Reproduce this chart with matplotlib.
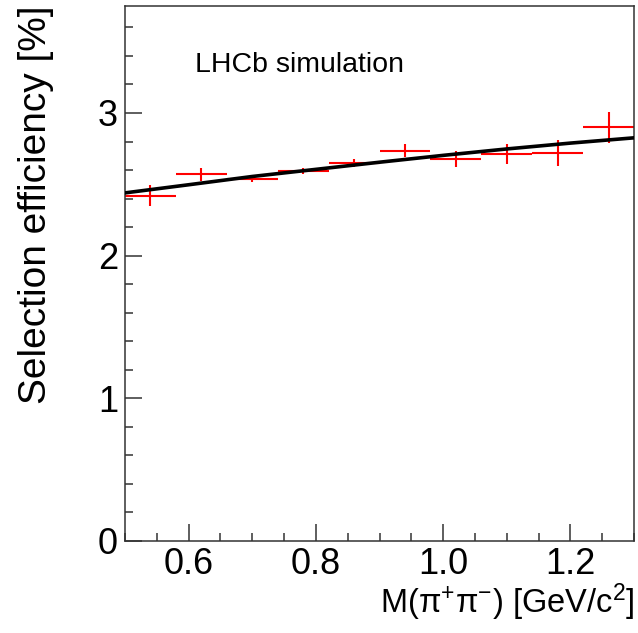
import numpy as np
import matplotlib
matplotlib.use('Agg')
import matplotlib.pyplot as plt
from matplotlib.ticker import MultipleLocator, FormatStrFormatter

plt.rcParams['font.family'] = ['Liberation Sans', 'DejaVu Sans']
plt.rcParams['mathtext.fontset'] = 'custom'
plt.rcParams['mathtext.rm'] = 'Liberation Sans'
plt.rcParams['mathtext.it'] = 'Liberation Sans:italic'

# binned efficiency
bin_edges = [0.50, 0.58, 0.66, 0.74, 0.82, 0.90, 0.98, 1.06, 1.14, 1.22, 1.30]
efficiency = [2.42, 2.57, 2.54, 2.595, 2.65, 2.735, 2.678, 2.716, 2.72, 2.90]
eff_error = [0.073, 0.047, 0.025, 0.021, 0.026, 0.046, 0.059, 0.070, 0.088, 0.109]

# fitted curve
fit_mass = [0.50, 0.60, 0.70, 0.80, 0.90, 1.00, 1.10, 1.20, 1.30]
fit_eff = [2.44, 2.497, 2.555, 2.605, 2.655, 2.703, 2.748, 2.789, 2.826]

edges = np.array(bin_edges)
centers = 0.5 * (edges[1:] + edges[:-1])
half_width = 0.5 * (edges[1:] - edges[:-1])

fig = plt.figure(figsize=(6.38, 6.33), dpi=100)
ax = fig.add_axes([125 / 638, 92 / 633, 509 / 638, 535 / 633])

ax.errorbar(centers, efficiency, xerr=half_width, yerr=eff_error,
            fmt='none', ecolor='#ff0000', elinewidth=1.5, capsize=0, zorder=2)
ax.plot(fit_mass, fit_eff, color='black', linewidth=2.6, zorder=3)

ax.set_xlim(0.5, 1.3)
ax.set_ylim(0, 3.75)

ax.xaxis.set_major_locator(MultipleLocator(0.2))
ax.xaxis.set_minor_locator(MultipleLocator(0.05))
ax.xaxis.set_major_formatter(FormatStrFormatter('%.1f'))
ax.yaxis.set_major_locator(MultipleLocator(1))
ax.yaxis.set_minor_locator(MultipleLocator(0.2))

ax.tick_params(which='both', direction='in', top=False, right=False,
               labelsize=26, width=1.1, color='#333333')
ax.tick_params(axis='x', which='major', length=12, pad=4)
ax.tick_params(axis='y', which='major', length=12, pad=5)
ax.tick_params(which='minor', length=6)
for sp in ax.spines.values():
    sp.set_linewidth(1.1)
    sp.set_color('#333333')

ax.set_xlabel(r'M($\mathrm{\pi}^{+}\mathrm{\pi}^{-}$) [GeV/$\mathrm{c}^{2}$]',
              fontsize=23.5, loc='right')
ax.xaxis.set_label_coords(1.0, -0.075)
ax.set_ylabel('Selection efficiency [%]', fontsize=28, loc='top')
ax.yaxis.set_label_coords(-0.14, 1.0)

ax.text(0.1375, 0.877, 'LHCb simulation', transform=ax.transAxes,
        fontsize=20.5, ha='left', va='baseline')

fig.savefig('out.png', dpi=100)
